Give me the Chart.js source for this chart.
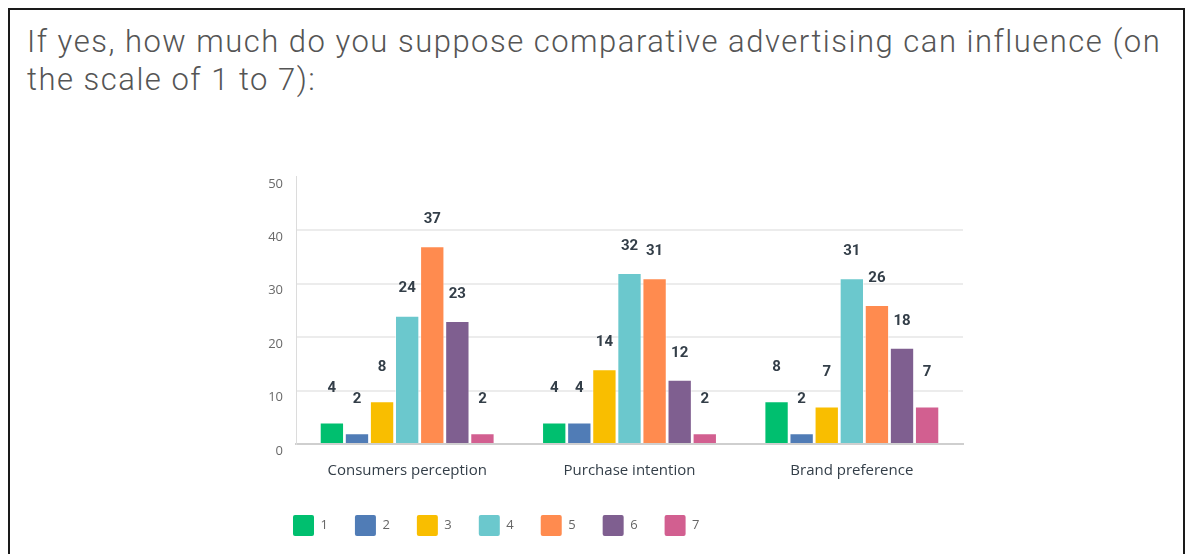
<!DOCTYPE html>
<html>
<head>
<meta charset="utf-8">
<script src="https://cdn.jsdelivr.net/npm/chart.js@4/dist/chart.umd.min.js"></script>
<style>
  html, body { margin: 0; padding: 0; background: #fff; }
  body { width: 1190px; height: 554px; position: relative; overflow: hidden; }
  .frame {
    position: absolute; left: 8px; top: 8px; width: 1173px; height: 560px;
    border: 2px solid #1a1a1a; border-bottom: none; box-sizing: content-box;
  }
  .question {
    position: absolute; left: 27px; top: 23px; margin: 0;
    font-family: Roboto, "Open Sans", sans-serif; font-weight: 300;
    font-size: 31px; line-height: 38px; letter-spacing: 1.5px;
    color: #555; white-space: nowrap;
  }
  .plot { position: absolute; left: 266px; top: 156px; width: 700px; height: 394px; }
</style>
</head>
<body>
<div class="frame"></div>
<p class="question">If yes, how much do you suppose comparative advertising can influence (on<br>the scale of 1 to 7):</p>
<div class="plot"><canvas id="chart"></canvas></div>
<script>
// Aspects asked about, and the answer counts for each point of the 1–7 scale
const categories = ['Consumers perception', 'Purchase intention', 'Brand preference'];
const scalePoints = ['1', '2', '3', '4', '5', '6', '7'];
const score1 = [4, 4, 8];
const score2 = [2, 4, 2];
const score3 = [8, 14, 7];
const score4 = [24, 32, 31];
const score5 = [37, 31, 26];
const score6 = [23, 12, 18];
const score7 = [2, 2, 7];
const yTicks = [0, 10, 20, 30, 40, 50];

const seriesValues = [score1, score2, score3, score4, score5, score6, score7];
const palette = ['#00bf6f', '#507cb6', '#f9be00', '#6bc8cd', '#ff8b4f', '#7f5f90', '#d25f90'];
const uiFont = '"Open Sans", Roboto, sans-serif';

// Count printed above every bar
const barValueLabels = {
  id: 'barValueLabels',
  afterDatasetsDraw(chart) {
    const ctx = chart.ctx;
    ctx.save();
    ctx.font = 'bold 15px Roboto, "Liberation Sans", sans-serif';
    ctx.fillStyle = '#333e48';
    ctx.textAlign = 'center';
    ctx.textBaseline = 'middle';
    chart.data.datasets.forEach((ds, i) => {
      const meta = chart.getDatasetMeta(i);
      meta.data.forEach((bar, j) => {
        const text = String(ds.data[j]);
        const lift = text.length > 1 ? 27 : 34;
        ctx.fillText(text, bar.x, bar.y - lift);
      });
    });
    ctx.restore();
  }
};

new Chart(document.getElementById('chart'), {
  type: 'bar',
  data: {
    labels: categories,
    datasets: scalePoints.map((name, i) => ({
      label: name,
      data: seriesValues[i],
      backgroundColor: palette[i],
      borderColor: 'rgba(255,255,255,0.55)',
      borderWidth: 1,
      barPercentage: 0.97,
      categoryPercentage: 0.79
    }))
  },
  options: {
    responsive: true,
    maintainAspectRatio: false,
    animation: false,
    layout: { padding: { top: 0, right: 3, bottom: 4, left: 0 } },
    plugins: {
      tooltip: { enabled: false },
      legend: {
        position: 'bottom',
        align: 'start',
        labels: {
          boxWidth: 21,
          boxHeight: 21,
          padding: 27,
          color: '#666',
          font: { family: uiFont, size: 13 },
          generateLabels(chart) {
            return chart.data.datasets.map((ds, i) => ({
              text: ds.label,
              fillStyle: ds.backgroundColor,
              strokeStyle: ds.backgroundColor,
              lineWidth: 0,
              borderRadius: 2,
              fontColor: '#666',
              datasetIndex: i
            }));
          }
        }
      }
    },
    scales: {
      x: {
        afterFit(scale) { scale.height = 44; },
        grid: { display: false, drawTicks: false },
        border: { color: '#cfcfcf', width: 2 },
        ticks: {
          color: '#333e48',
          padding: 18,
          font: { family: uiFont, size: 15 }
        }
      },
      y: {
        min: 0,
        max: 50,
        afterBuildTicks(scale) { scale.ticks = yTicks.map(v => ({ value: v })); },
        afterFit(scale) { scale.width = 30; },
        grid: {
          drawTicks: false,
          color: ctx => (ctx.tick && (ctx.tick.value === 0 || ctx.tick.value === 50)) ? 'rgba(0,0,0,0)' : '#ececec',
          lineWidth: 2
        },
        border: { color: '#dcdcdc', width: 1 },
        ticks: {
          color: '#6a6a6a',
          padding: 13,
          labelOffset: 7,
          font: { family: uiFont, size: 13 }
        }
      }
    }
  },
  plugins: [barValueLabels]
});
</script>
</body>
</html>
